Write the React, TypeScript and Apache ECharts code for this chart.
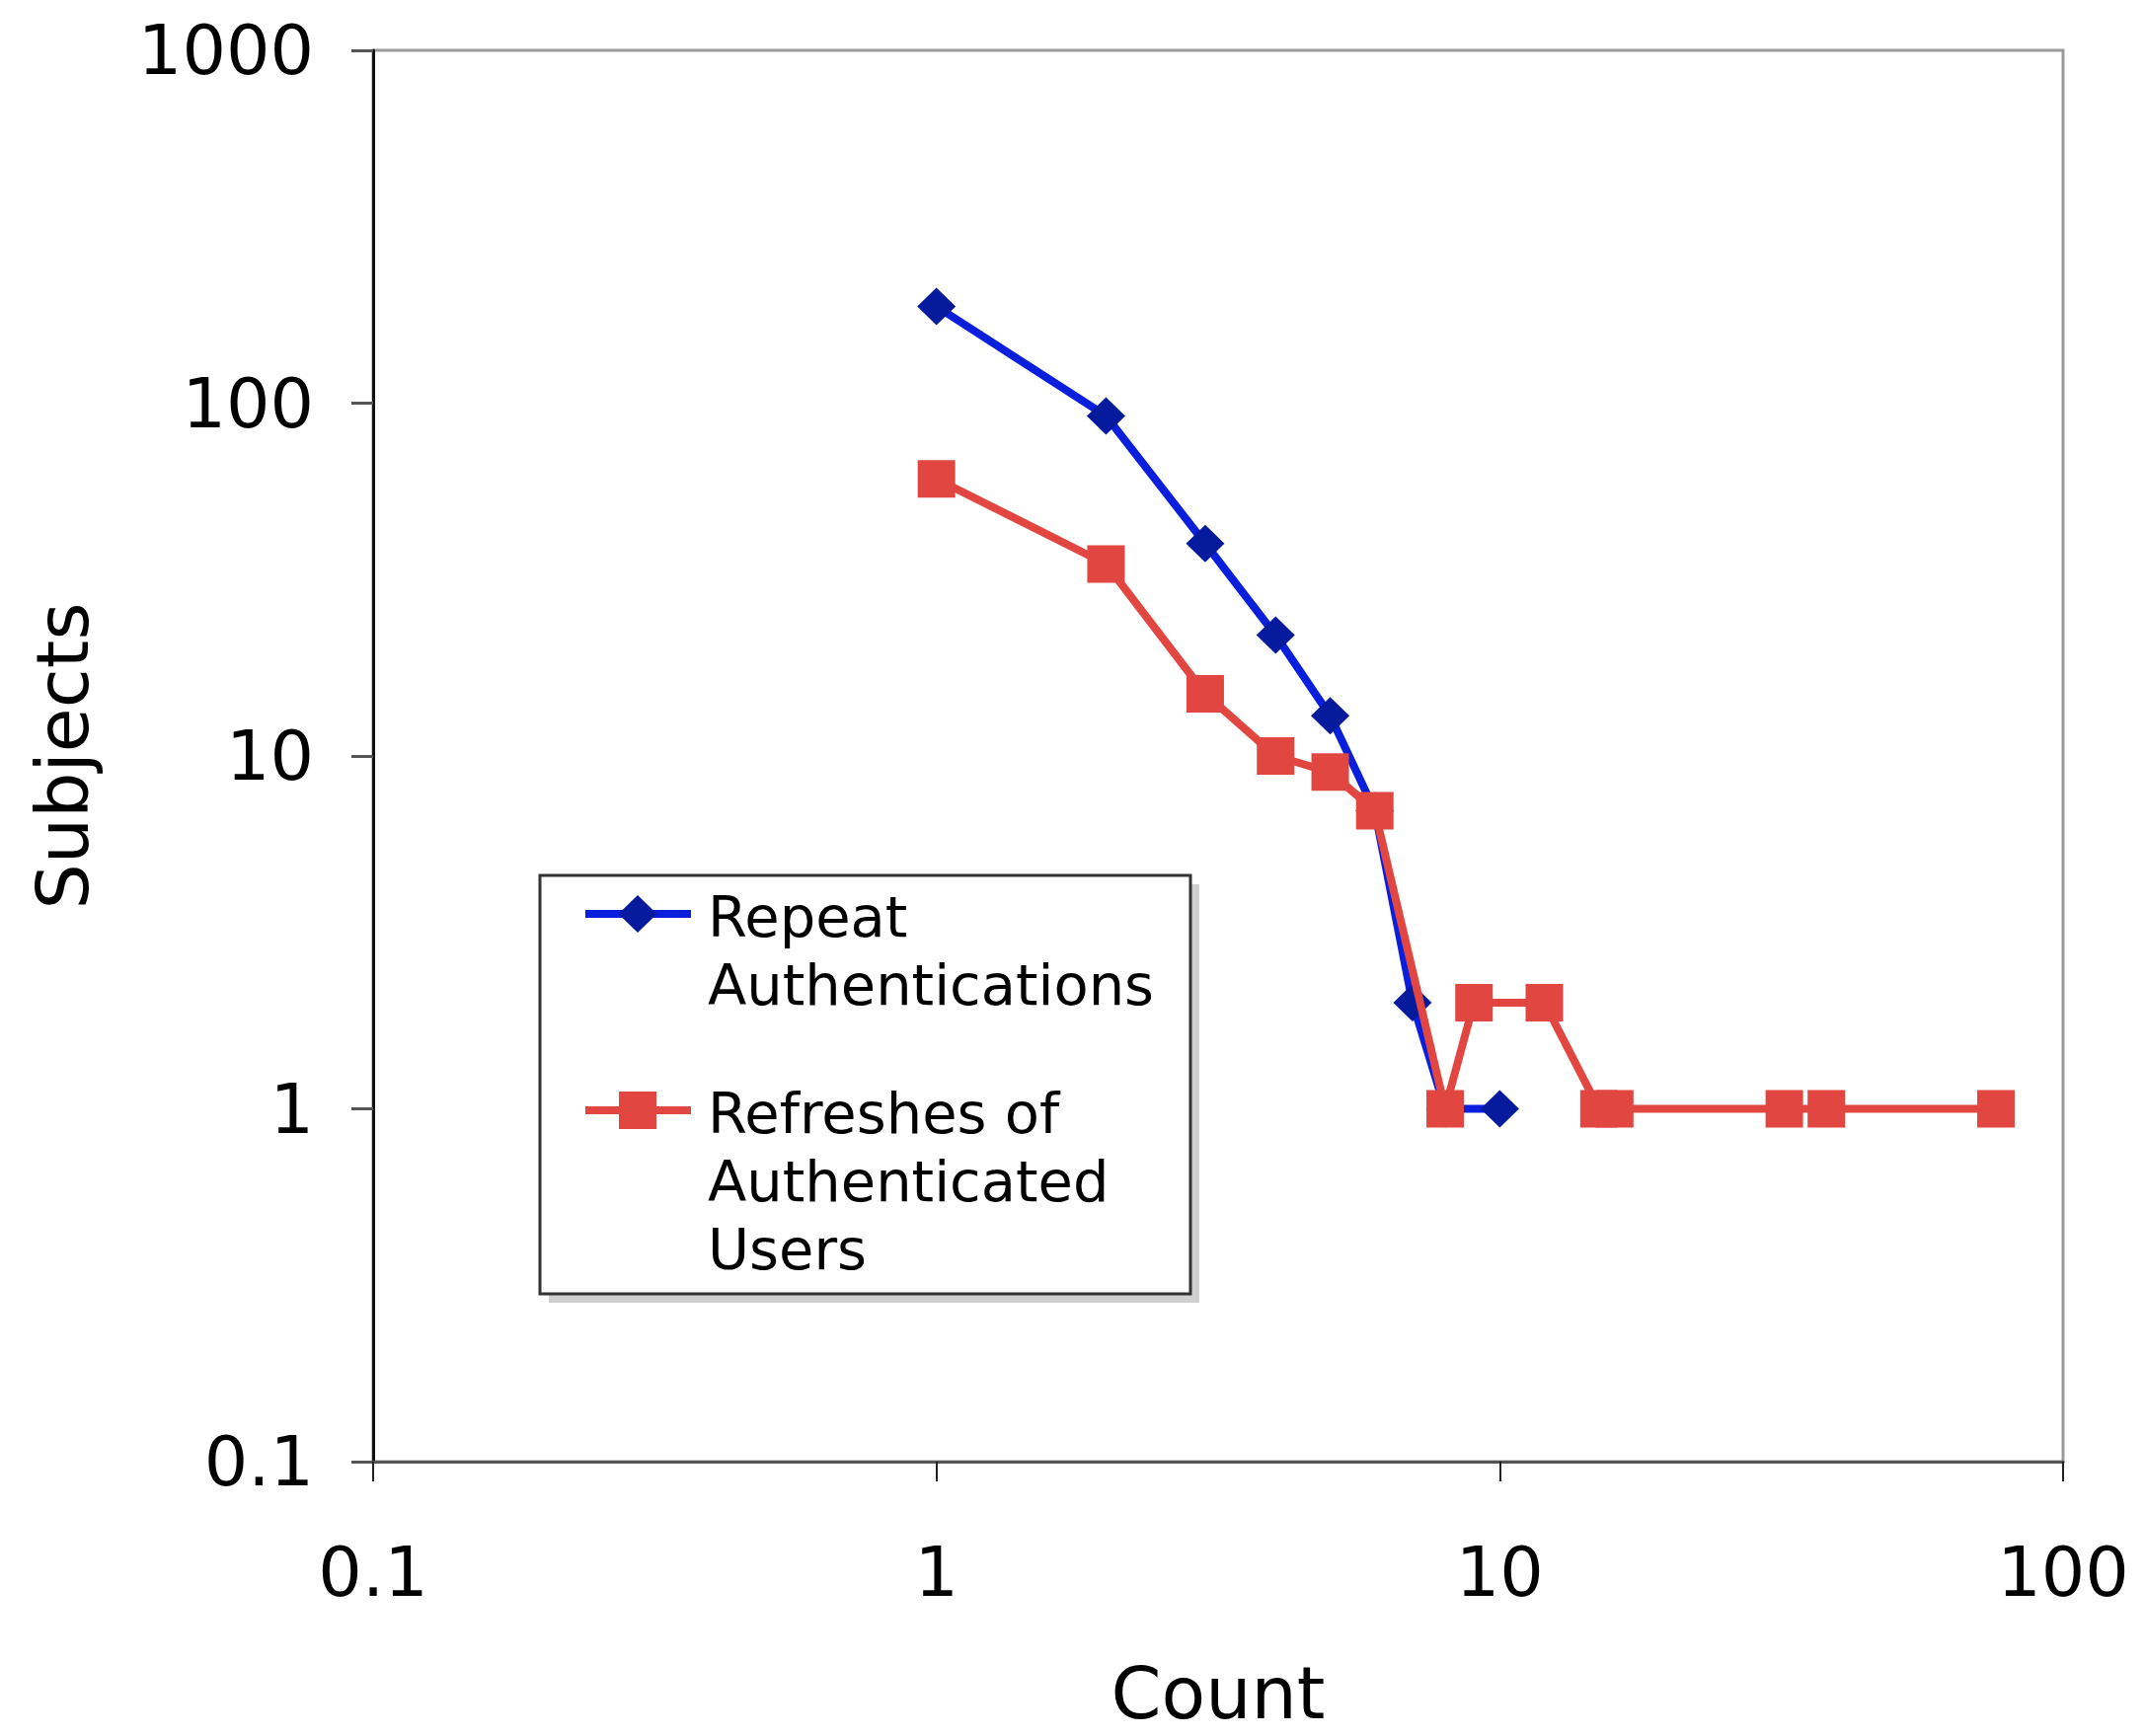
import React, { useEffect, useRef } from "react";
import * as echarts from "echarts";

const repeatCounts = [1, 2, 3, 4, 5, 6, 7, 8, 10];
const repeatSubjects = [188, 92, 40, 22, 13, 7, 2, 1, 1];

const refreshCounts = [1, 2, 3, 4, 5, 6, 8, 9, 12, 15, 16, 32, 38, 76];
const refreshSubjects = [61, 35, 15, 10, 9, 7, 1, 2, 2, 1, 1, 1, 1, 1];

const seriesNames = ["Repeat Authentications", "Refreshes of Authenticated Users"];
const legendLabels = ["Repeat\nAuthentications", "Refreshes of\nAuthenticated\nUsers"];

const xTicks = [0.1, 1, 10, 100];
const yTicks = [0.1, 1, 10, 100, 1000];

const BLUE_LINE = "#0A1FDB";
const BLUE_MARK = "#061A9E";
const RED = "#E24641";
const FONT = "DejaVu Sans";

export default function App() {
  const ref = useRef<HTMLDivElement>(null);
  useEffect(() => {
    document.body.style.margin = "0";
    const chart = echarts.init(ref.current!, null, { renderer: "svg" });
    const pair = (xs: number[], ys: number[]) => xs.map((x, i) => [x, ys[i]]);
    const fmt = (v: number) => {
      const hit = [...xTicks, ...yTicks].find((t) => Math.abs(Math.log10(t) - Math.log10(v)) < 1e-6);
      return hit !== undefined ? String(hit) : "";
    };
    chart.setOption({
      animation: false,
      backgroundColor: "#ffffff",
      grid: {
        left: 378,
        top: 51,
        width: 1712,
        height: 1430,
        show: true,
        borderColor: "#9a9a9a",
        borderWidth: 3,
        backgroundColor: "transparent",
      },
      xAxis: {
        type: "log",
        logBase: 10,
        min: 0.1,
        max: 100,
        name: "Count",
        nameLocation: "middle",
        nameGap: 198,
        nameTextStyle: { fontFamily: FONT, fontSize: 73, color: "#000" },
        axisLine: { show: true, lineStyle: { color: "#555", width: 3 } },
        axisTick: { show: true, inside: false, length: 20, lineStyle: { color: "#222", width: 2 } },
        axisLabel: { fontFamily: FONT, fontSize: 70, color: "#000", margin: 77, formatter: fmt },
        splitLine: { show: false },
        minorTick: { show: false },
      },
      yAxis: {
        type: "log",
        logBase: 10,
        min: 0.1,
        max: 1000,
        name: "Subjects",
        nameLocation: "middle",
        nameGap: 278,
        nameRotate: 90,
        nameTextStyle: { fontFamily: FONT, fontSize: 73, color: "#000" },
        axisLine: { show: true, lineStyle: { color: "#111", width: 3 } },
        axisTick: { show: true, inside: false, length: 22, lineStyle: { color: "#555", width: 3 } },
        axisLabel: { fontFamily: FONT, fontSize: 70, color: "#000", margin: 60, formatter: fmt },
        splitLine: { show: false },
      },
      series: [
        {
          name: seriesNames[0],
          type: "line",
          data: pair(repeatCounts, repeatSubjects),
          symbol: "diamond",
          symbolSize: [39, 38],
          lineStyle: { color: BLUE_LINE, width: 8 },
          itemStyle: { color: BLUE_MARK, borderWidth: 0 },
          z: 2,
        },
        {
          name: seriesNames[1],
          type: "line",
          data: pair(refreshCounts, refreshSubjects),
          symbol: "rect",
          symbolSize: [38, 38],
          lineStyle: { color: RED, width: 8 },
          itemStyle: { color: RED, borderWidth: 0 },
          z: 3,
        },
      ],
      graphic: [
        {
          type: "group",
          z: 100,
          children: [
            { type: "rect", shape: { x: 556, y: 896, width: 659, height: 424 }, style: { fill: "#cfcfcf" } },
            {
              type: "rect",
              shape: { x: 547, y: 887, width: 659, height: 424 },
              style: { fill: "#ffffff", stroke: "#333333", lineWidth: 3 },
            },
            { type: "line", shape: { x1: 593, y1: 926, x2: 700, y2: 926 }, style: { stroke: BLUE_LINE, lineWidth: 8 } },
            {
              type: "polygon",
              shape: { points: [[646, 907], [665.5, 926], [646, 945], [626.5, 926]] },
              style: { fill: BLUE_MARK },
            },
            {
              type: "text",
              x: 717,
              y: 894.5,
              style: {
                text: legendLabels[0],
                fontFamily: FONT,
                fontSize: 57.5,
                lineHeight: 69,
                fill: "#000",
                verticalAlign: "top",
              },
            },
            { type: "line", shape: { x1: 593, y1: 1125, x2: 700, y2: 1125 }, style: { stroke: RED, lineWidth: 8 } },
            { type: "rect", shape: { x: 627, y: 1106, width: 38, height: 38 }, style: { fill: RED } },
            {
              type: "text",
              x: 717,
              y: 1093.5,
              style: {
                text: legendLabels[1],
                fontFamily: FONT,
                fontSize: 57.5,
                lineHeight: 69,
                fill: "#000",
                verticalAlign: "top",
              },
            },
          ],
        },
      ],
    });
    return () => chart.dispose();
  }, []);
  return <div ref={ref} style={{ width: 2173, height: 1759 }} />;
}
